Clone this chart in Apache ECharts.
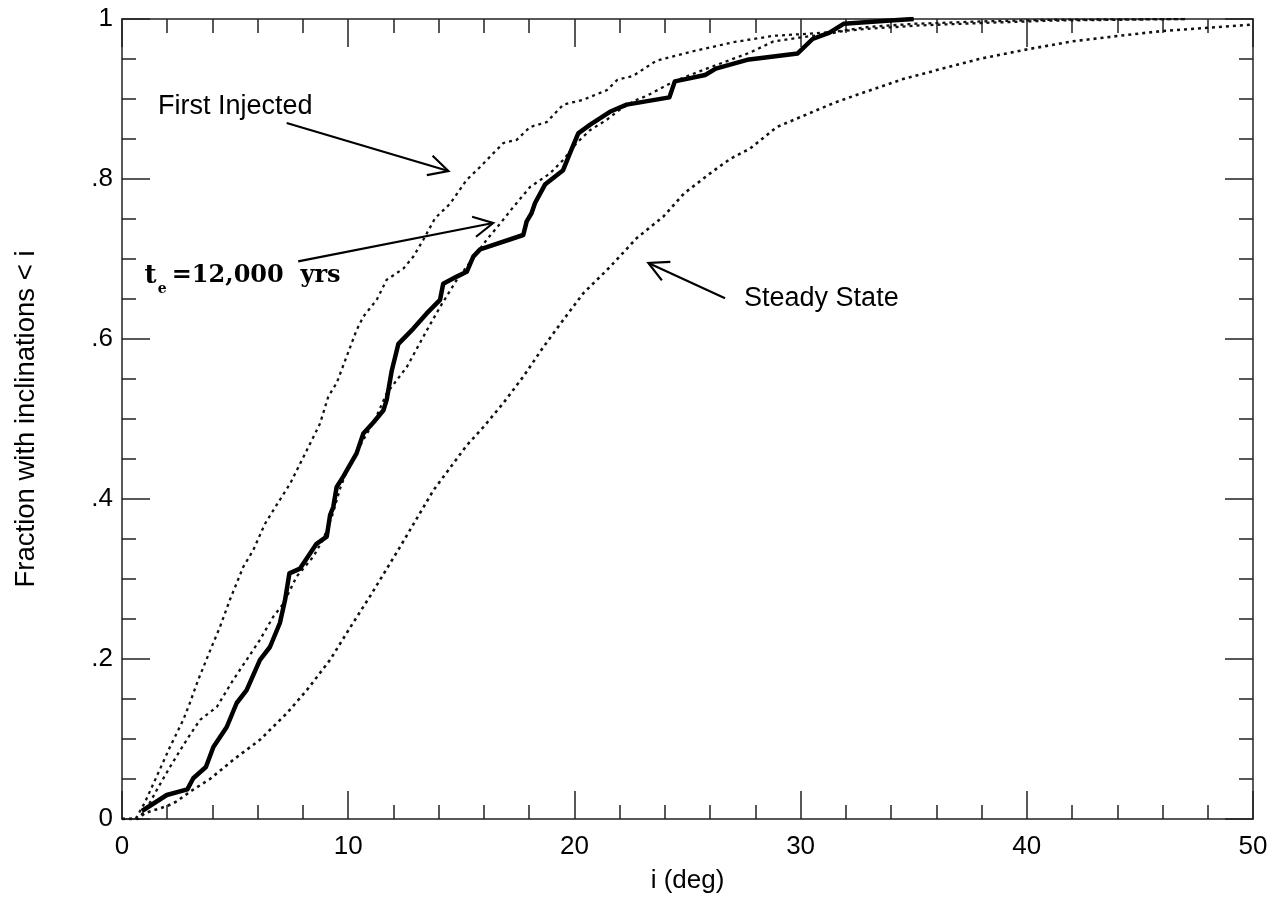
<!DOCTYPE html>
<html>
<head>
<meta charset="utf-8">
<script src="https://cdn.jsdelivr.net/npm/echarts@6/dist/echarts.min.js"></script>
<style>
html, body { margin: 0; padding: 0; background: #fff; }
#chart { width: 1286px; height: 910px; }
</style>
</head>
<body>
<div id="chart"></div>
<script>
// t_e = 12,000 yrs (thick solid)
var solidX = [0.88, 1.98, 2.89, 3.15, 3.71, 4.04, 4.63, 5.07, 5.51, 6.1, 6.54, 6.98, 7.21, 7.4, 7.87, 8.6, 9.05, 9.2, 9.34, 9.49, 9.78, 10.37, 10.67, 11.12, 11.56, 11.7, 11.93, 12.22, 12.88, 13.47, 14.06, 14.2, 14.8, 15.24, 15.53, 15.83, 17.74, 17.89, 18.1, 18.26, 18.7, 19.5, 19.8, 20.17, 20.7, 21.57, 22.31, 24.2, 24.44, 25.78, 26.25, 27.64, 29.87, 30.53, 31.28, 31.9, 33.97, 35.0];
var solidY = [0.01, 0.03, 0.037, 0.051, 0.065, 0.09, 0.115, 0.145, 0.161, 0.199, 0.215, 0.245, 0.274, 0.307, 0.313, 0.344, 0.353, 0.38, 0.39, 0.415, 0.428, 0.457, 0.482, 0.496, 0.511, 0.524, 0.561, 0.594, 0.613, 0.632, 0.649, 0.669, 0.678, 0.684, 0.703, 0.712, 0.73, 0.747, 0.757, 0.77, 0.793, 0.811, 0.832, 0.857, 0.868, 0.884, 0.893, 0.902, 0.922, 0.93, 0.938, 0.949, 0.957, 0.975, 0.983, 0.994, 0.998, 1.0];

// First Injected (left dotted)
var firstX = [0, 0.6, 1.0, 1.53, 2.12, 2.71, 3.0, 3.37, 3.96, 4.33, 4.77, 5.36, 5.8, 6.32, 6.98, 7.43, 8.17, 8.75, 9.12, 9.49, 9.93, 10.37, 10.67, 11.26, 11.7, 12.44, 12.88, 13.32, 13.84, 14.5, 15.24, 15.83, 16.41, 16.86, 17.45, 18.04, 18.77, 19.51, 20.39, 21.43, 21.9, 22.6, 23.63, 25.3, 27.03, 28.8, 30.0, 31.5, 33.0, 35.0, 38.0, 41.0, 47.0];
var firstY = [0, 0, 0.02, 0.053, 0.09, 0.124, 0.145, 0.174, 0.215, 0.24, 0.274, 0.315, 0.336, 0.369, 0.399, 0.419, 0.461, 0.494, 0.528, 0.545, 0.578, 0.611, 0.628, 0.649, 0.674, 0.688, 0.703, 0.724, 0.751, 0.769, 0.799, 0.815, 0.832, 0.845, 0.849, 0.865, 0.871, 0.893, 0.899, 0.911, 0.924, 0.929, 0.948, 0.96, 0.971, 0.979, 0.981, 0.984, 0.99, 0.994, 0.997, 0.999, 1.0];

// middle dotted
var midX = [0, 0.7, 1.09, 1.53, 2.12, 2.86, 3.45, 4.19, 4.92, 5.51, 6.1, 6.69, 7.13, 7.72, 8.46, 8.9, 9.3, 9.64, 10.0, 10.67, 11.2, 11.7, 12.59, 13.5, 14.06, 14.8, 15.5, 16.12, 16.71, 17.3, 18.04, 18.92, 19.51, 20.1, 20.69, 21.43, 22.16, 22.75, 23.2, 24.4, 25.85, 27.76, 28.8, 30.0, 31.15, 31.9, 33.07, 35.3, 38.0, 41.0, 44.0, 47.0];
var midY = [0, 0, 0.013, 0.036, 0.065, 0.099, 0.124, 0.14, 0.174, 0.199, 0.224, 0.253, 0.269, 0.303, 0.328, 0.35, 0.38, 0.413, 0.44, 0.474, 0.5, 0.532, 0.565, 0.612, 0.64, 0.674, 0.7, 0.724, 0.744, 0.765, 0.79, 0.807, 0.824, 0.845, 0.861, 0.874, 0.89, 0.899, 0.904, 0.922, 0.938, 0.958, 0.972, 0.977, 0.981, 0.985, 0.988, 0.992, 0.995, 0.998, 0.999, 1.0];

// Steady State (right dotted)
var steadyX = [0, 0.7, 1.02, 1.98, 2.42, 3.0, 3.89, 4.92, 6.1, 7.28, 8.17, 9.2, 10.1, 11.0, 12.29, 13.77, 15.24, 15.98, 16.86, 17.74, 18.63, 19.51, 20.39, 21.57, 22.75, 23.93, 24.85, 26.0, 26.88, 27.76, 28.95, 31.55, 34.53, 37.88, 40.0, 42.0, 44.39, 46.0, 48.0, 50.0];
var steadyY = [0, 0, 0.0075, 0.016, 0.022, 0.034, 0.05, 0.074, 0.099, 0.132, 0.161, 0.199, 0.24, 0.28, 0.34, 0.411, 0.467, 0.49, 0.52, 0.553, 0.59, 0.624, 0.657, 0.69, 0.726, 0.753, 0.782, 0.807, 0.825, 0.838, 0.865, 0.896, 0.925, 0.95, 0.962, 0.972, 0.98, 0.985, 0.989, 0.993];

var xTicks = ['0', '10', '20', '30', '40', '50'];
var yTicks = ['0', '.2', '.4', '.6', '.8', '1'];

function zip(xs, ys) {
    return xs.map(function (x, i) { return [x, ys[i]]; });
}

var chart = echarts.init(document.getElementById('chart'));
var frame = '#222';
var sans = '"Liberation Sans", Arial, sans-serif';

function axisBase(extra) {
    var a = {
        axisLine: { show: true, onZero: false, lineStyle: { color: frame, width: 1.5 } },
        axisTick: { show: true, inside: true, length: 28, lineStyle: { color: frame, width: 1.5 } },
        minorTick: { show: true, length: 14, lineStyle: { color: frame, width: 1.5 } },
        splitLine: { show: false },
        minorSplitLine: { show: false }
    };
    for (var k in extra) a[k] = extra[k];
    return a;
}

var dotted = function (name, data, w) {
    return {
        name: name, type: 'line', data: data, showSymbol: false, symbol: 'none',
        silent: true, animation: false,
        lineStyle: { color: '#111', width: w, type: [3, 4], cap: 'butt' }
    };
};

chart.setOption({
    backgroundColor: '#fff',
    animation: false,
    grid: { left: 122, right: 33, top: 19, bottom: 91, containLabel: false, outerBoundsMode: 'none' },
    xAxis: [
        axisBase({
            type: 'value', min: 0, max: 50, interval: 10, position: 'bottom',
            minorTick: { show: true, splitNumber: 5, length: 14, lineStyle: { color: frame, width: 1.5 } },
            axisLabel: { show: true, margin: 15, color: '#000', fontSize: 26, fontFamily: sans,
                formatter: function (v) { return xTicks[Math.round(v / 10)]; } },
            name: 'i (deg)', nameLocation: 'middle', nameGap: 49,
            nameTextStyle: { color: '#000', fontSize: 26, fontFamily: sans }
        }),
        axisBase({
            type: 'value', min: 0, max: 50, interval: 10, position: 'top',
            minorTick: { show: true, splitNumber: 5, length: 14, lineStyle: { color: frame, width: 1.5 } },
            axisLabel: { show: false }
        })
    ],
    yAxis: [
        axisBase({
            type: 'value', min: 0, max: 1, interval: 0.2, position: 'left',
            minorTick: { show: true, splitNumber: 4, length: 14, lineStyle: { color: frame, width: 1.5 } },
            axisLabel: { show: true, margin: 9, color: '#000', fontSize: 26, fontFamily: sans,
                formatter: function (v) { return yTicks[Math.round(v * 5)]; } },
            name: 'Fraction with inclinations < i', nameLocation: 'middle', nameGap: 82, nameRotate: 90,
            nameTextStyle: { color: '#000', fontSize: 27.5, fontFamily: sans }
        }),
        axisBase({
            type: 'value', min: 0, max: 1, interval: 0.2, position: 'right',
            minorTick: { show: true, splitNumber: 4, length: 14, lineStyle: { color: frame, width: 1.5 } },
            axisLabel: { show: false }
        })
    ],
    series: [
        dotted('Steady State', zip(steadyX, steadyY), 2.6),
        dotted('First Injected', zip(firstX, firstY), 2.3),
        dotted('Middle', zip(midX, midY), 2.3),
        {
            name: 't_e=12,000 yrs', type: 'line', data: zip(solidX, solidY),
            showSymbol: false, symbol: 'none', silent: true, animation: false,
            lineStyle: { color: '#000', width: 4.5, join: 'round' }
        }
    ]
});

// annotations, placed in data coordinates
function px(x, y) {
    return chart.convertToPixel({ xAxisIndex: 0, yAxisIndex: 0 }, [x, y]);
}

function arrow(tail, tip) {
    var a = px(tail[0], tail[1]), b = px(tip[0], tip[1]);
    var ang = Math.atan2(b[1] - a[1], b[0] - a[0]);
    var len = 22, spread = 0.48;
    var b1 = [b[0] - len * Math.cos(ang - spread), b[1] - len * Math.sin(ang - spread)];
    var b2 = [b[0] - len * Math.cos(ang + spread), b[1] - len * Math.sin(ang + spread)];
    var st = { stroke: '#000', lineWidth: 2.2, fill: null };
    return [
        { type: 'line', shape: { x1: a[0], y1: a[1], x2: b[0], y2: b[1] }, style: st, silent: true },
        { type: 'polyline', shape: { points: [b1, b, b2] }, style: st, silent: true }
    ];
}

function label(x, y, text, font) {
    var p = px(x, y);
    return {
        type: 'text', x: p[0], y: p[1], silent: true,
        style: { text: text, fill: '#000', font: font, textAlign: 'left', textVerticalAlign: 'middle' }
    };
}

var labelFont = '27px "Liberation Sans", Arial, sans-serif';
var serifBold = 'bold 24px "DejaVu Serif", serif';

var elements = []
    .concat(arrow([7.28, 0.870], [14.43, 0.810]))
    .concat(arrow([7.79, 0.697], [16.41, 0.745]))
    .concat(arrow([26.66, 0.651], [23.27, 0.695]));
elements.push(label(1.59, 0.8906, 'First Injected', labelFont));
elements.push(label(27.5, 0.6506, 'Steady State', labelFont));
elements.push(label(1.0, 0.679, 't', 'bold 26px "DejaVu Serif", serif'));
elements.push(label(1.58, 0.6625, 'e', 'bold 14px "DejaVu Serif", serif'));
elements.push(label(2.2, 0.679, '=12,000  yrs', serifBold));

chart.setOption({ graphic: { elements: elements } });
</script>
</body>
</html>
